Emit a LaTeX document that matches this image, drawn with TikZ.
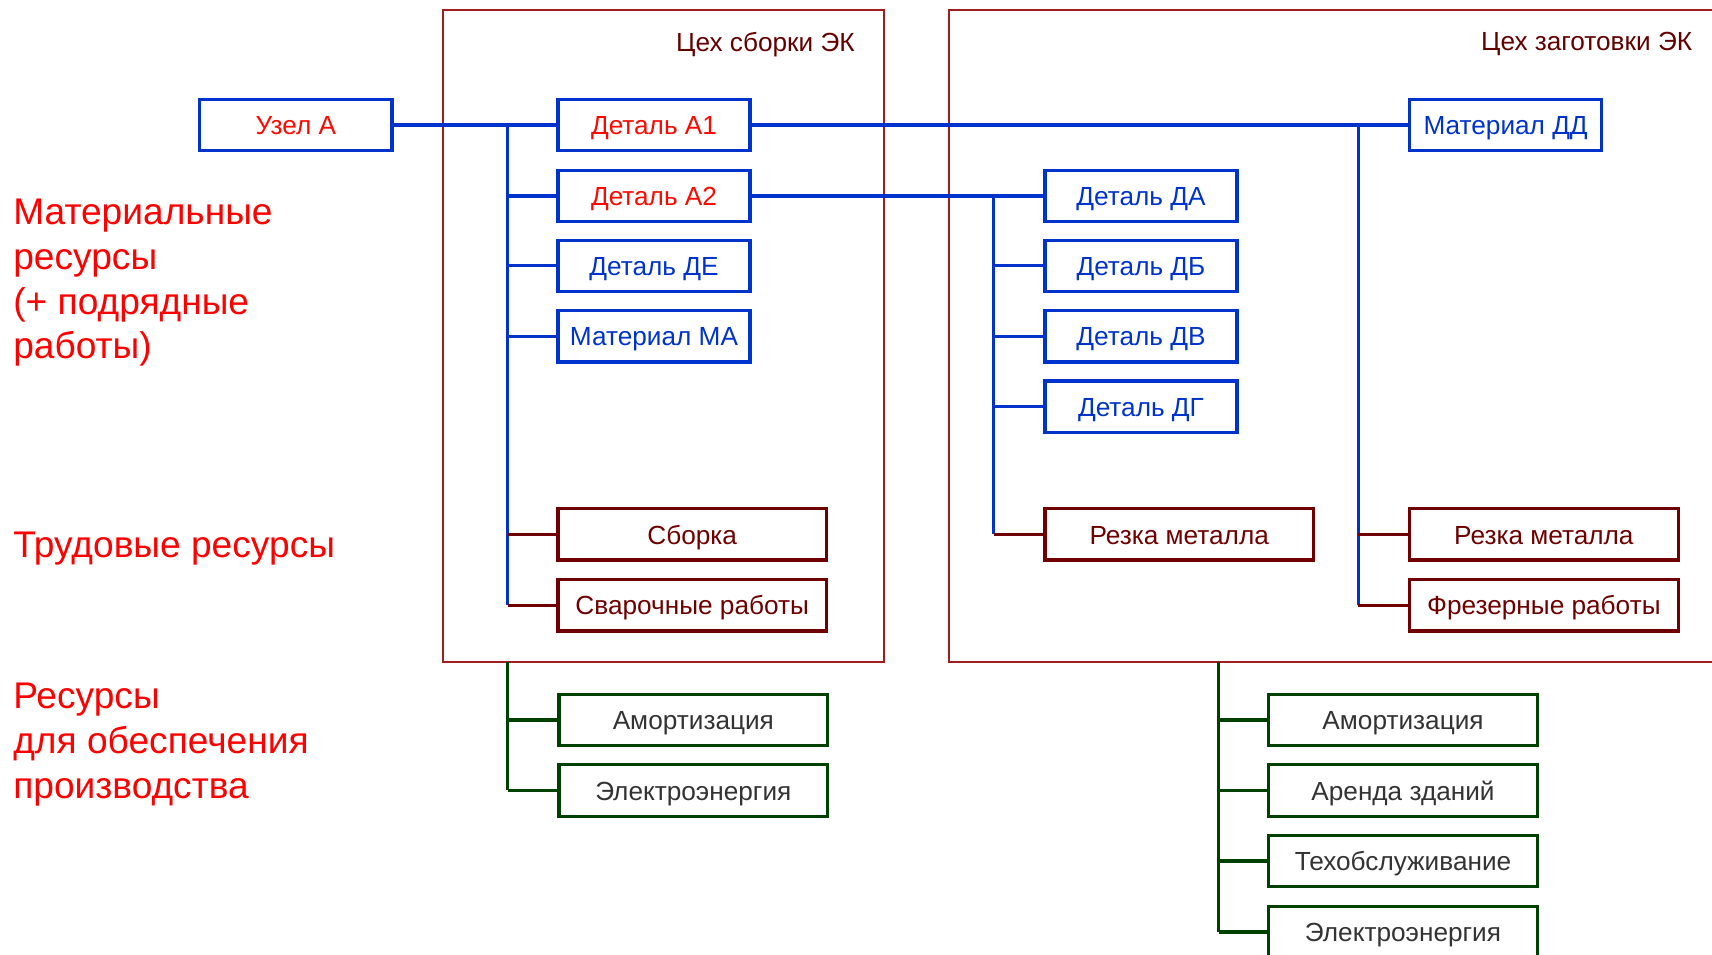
\documentclass[tikz,border=0pt]{standalone}
\usepackage{fontspec}
\setmainfont{Liberation Sans}
\definecolor{bblue}{RGB}{0,51,204}
\definecolor{tred}{RGB}{250,10,0}
\definecolor{maroon}{RGB}{112,0,0}
\definecolor{framered}{RGB}{160,30,30}
\definecolor{titlered}{RGB}{100,0,0}
\definecolor{dgreen}{RGB}{0,64,0}
\definecolor{gtext}{RGB}{51,51,51}
\begin{document}
\begin{tikzpicture}[x=1pt,y=-1pt,
  box/.style={draw, line width=3pt, inner sep=0pt, minimum height=47pt, text height=21.5pt, text depth=4pt, font=\fontsize{24}{28}\selectfont},
  shortbox/.style={box, minimum width=176pt},
  longbox/.style={box, minimum width=246pt},
  bluebox/.style={shortbox, draw=bblue, text=bblue},
  redtxt/.style={text=tred},
  workbox/.style={longbox, draw=maroon, text=maroon},
  supbox/.style={longbox, draw=dgreen, text=gtext},
  frame/.style={draw=framered, line width=2pt, inner sep=0pt},
  title/.style={text=titlered, font=\fontsize{24}{28}\selectfont, inner sep=0pt},
  side/.style={text=red, font=\fontsize{34}{41}\selectfont, align=left, inner sep=0pt, anchor=west},
  bline/.style={draw=bblue, line width=3pt},
  mline/.style={draw=maroon, line width=3pt},
  gline/.style={draw=dgreen, line width=3pt}
]
\useasboundingbox (0,0) rectangle (1568,874);

% frames
\node[frame, minimum width=404pt, minimum height=597pt] (frL) at (608,307.5) {};
\node[frame, minimum width=740pt, minimum height=597pt] (frR) at (1239,307.5) {};
\node[title, anchor=east] (tL) at (783,40.5) {Цех сборки ЭК};
\node[title, anchor=east] (tR) at (1550,40.5) {Цех заготовки ЭК};

% side labels
\node[side] (s1) at (12,259) {Материальные\\ресурсы\\(+ подрядные\\работы)};
\node[side] (s2) at (12,502) {Трудовые ресурсы};
\node[side] (s3) at (12,682) {Ресурсы\\для обеспечения\\производства};

% boxes
\node[bluebox, redtxt] (uz) at (271,114.5) {Узел А};
\node[bluebox, redtxt] (a1) at (599,114.5) {Деталь А1};
\node[bluebox, redtxt] (a2) at (599,179.5) {Деталь А2};
\node[bluebox] (de) at (599,243.5) {Деталь ДЕ};
\node[bluebox] (ma) at (599,308) {Материал МА};
\node[workbox] (sb) at (634,489.5) {Сборка};
\node[workbox] (sv) at (634,554.5) {Сварочные работы};
\node[supbox] (amL) at (635,659.5) {Амортизация};
\node[supbox] (elL) at (635,724) {Электроэнергия};

\node[bluebox] (dd) at (1379,114.5) {Материал ДД};
\node[bluebox] (da) at (1045,179.5) {Деталь ДА};
\node[bluebox] (db) at (1045,243.5) {Деталь ДБ};
\node[bluebox] (dv) at (1045,308) {Деталь ДВ};
\node[bluebox] (dg) at (1045,372.5) {Деталь ДГ};
\node[workbox] (rzM) at (1080,489.5) {Резка металла};
\node[workbox] (rzR) at (1414,489.5) {Резка металла};
\node[workbox] (fr) at (1414,554.5) {Фрезерные работы};
\node[supbox] (amR) at (1285,659.5) {Амортизация};
\node[supbox] (ar) at (1285,724) {Аренда зданий};
\node[supbox] (tx) at (1285,788.5) {Техобслуживание};
\node[supbox] (elR) at (1285,853.5) {Электроэнергия};

% trunk coordinates
\coordinate (tA) at (465,114.5);
\coordinate (tB) at (910,179.5);
\coordinate (tC) at (1244,114.5);
\coordinate (gL) at (465,606);
\coordinate (gR) at (1116,606);

% blue connectors
\draw[bline] (uz.east) -- (a1.west);
\draw[bline] (a1.east) -- (dd.west);
\draw[bline] (a2.east) -- (da.west);
\draw[bline] (tA) -- (tA |- sv.west);
\draw[bline] (tB) -- (tB |- rzM.west);
\draw[bline] (tC) -- (tC |- fr.west);
\draw[bline] (a2.west) -- (a2.west -| tA);
\draw[bline] (de.west) -- (de.west -| tA);
\draw[bline] (ma.west) -- (ma.west -| tA);
\draw[bline] (db.west) -- (db.west -| tB);
\draw[bline] (dv.west) -- (dv.west -| tB);
\draw[bline] (dg.west) -- (dg.west -| tB);

% maroon connectors
\draw[mline] (sb.west) -- (sb.west -| tA);
\draw[mline] (sv.west) -- (sv.west -| tA);
\draw[mline] (rzM.west) -- (rzM.west -| tB);
\draw[mline] (rzR.west) -- (rzR.west -| tC);
\draw[mline] (fr.west) -- (fr.west -| tC);

% green connectors
\draw[gline] (gL) -- (gL |- elL.west);
\draw[gline] (amL.west) -- (amL.west -| gL);
\draw[gline] (elL.west) -- (elL.west -| gL);
\draw[gline] (gR) -- (gR |- elR.west);
\draw[gline] (amR.west) -- (amR.west -| gR);
\draw[gline] (ar.west) -- (ar.west -| gR);
\draw[gline] (tx.west) -- (tx.west -| gR);
\draw[gline] (elR.west) -- (elR.west -| gR);
\end{tikzpicture}
\end{document}
